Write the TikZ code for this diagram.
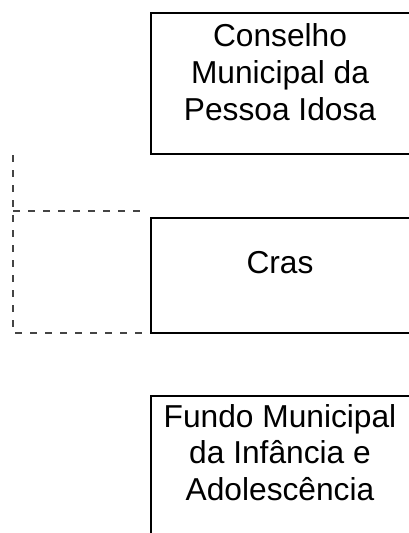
\documentclass[tikz,border=0pt]{standalone}
\usepackage{fontspec}
\setmainfont{Liberation Sans}
\begin{document}
\begin{tikzpicture}[x=1pt,y=1pt,
  boxstyle/.style={draw=black,line width=2.2pt},
  label/.style={inner sep=0pt,align=center,anchor=base,font=\fontsize{31.7}{36.7}\selectfont},
  dashline/.style={draw={rgb,255:red,68;green,68;blue,68},line width=2pt,dash pattern=on 7pt off 8pt}]
\useasboundingbox (0,0) rectangle (408,-533);
\node[boxstyle,minimum width=260pt,minimum height=141pt,inner sep=0pt,anchor=north west] (b1) at (150,-12) {};
\node[boxstyle,minimum width=260pt,minimum height=115pt,inner sep=0pt,anchor=north west] (b2) at (150,-217) {};
\node[boxstyle,minimum width=260pt,minimum height=150pt,inner sep=0pt,anchor=north west] (b3) at (150,-395) {};
\node[label] (t1) at (280,-120) {Conselho\\Municipal da\\Pessoa Idosa};
\node[label] (t2) at (280,-273) {Cras};
\node[label] (t3) at (280,-500.5) {Fundo Municipal\\da Infância e\\Adolescência};
\coordinate (d0) at (13,-155);
\coordinate (d1) at (13,-211);
\coordinate (d2) at (13,-333);
\coordinate (e1) at (147,-211);
\coordinate (e2) at (147,-333);
\draw[dashline] (d0) -- (d2) -- (e2);
\draw[dashline] (d1) -- (e1);
\end{tikzpicture}
\end{document}
